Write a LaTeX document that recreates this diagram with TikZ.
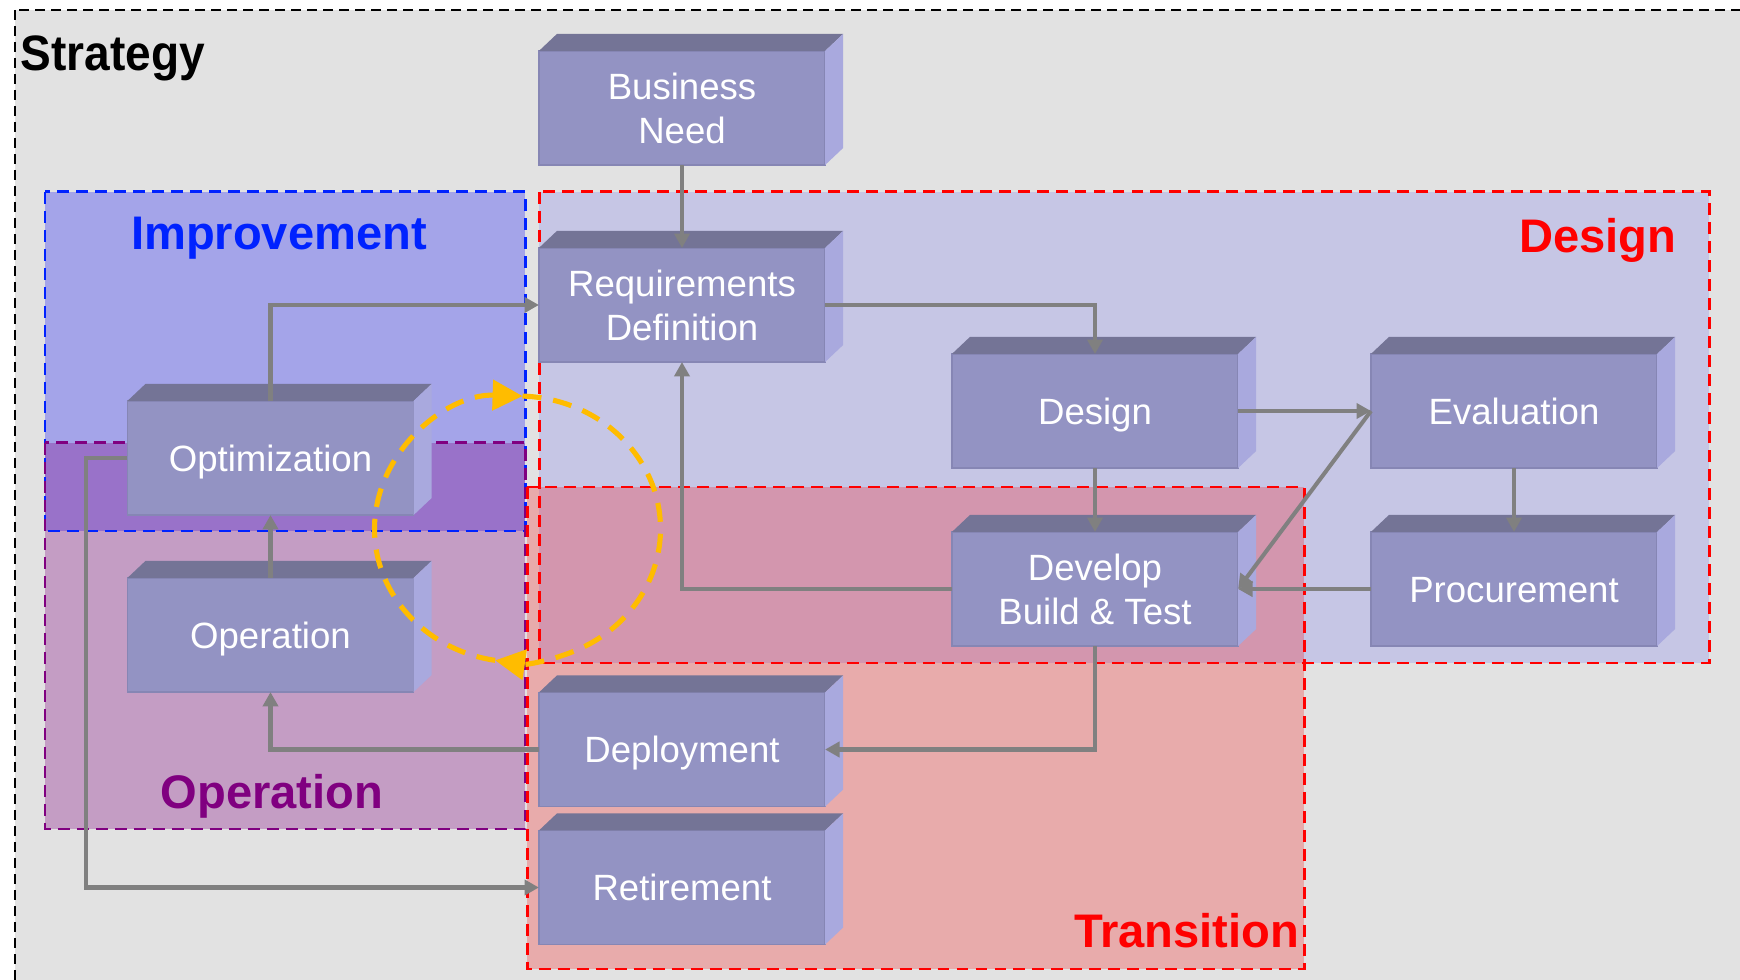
\documentclass[tikz,border=0pt]{standalone}
\usepackage{fontspec}
\setmainfont{Liberation Sans}
\usetikzlibrary{arrows.meta}

\definecolor{canvasgray}{RGB}{226,226,226}
\definecolor{facefront}{RGB}{147,147,195}
\definecolor{facetop}{RGB}{116,116,150}
\definecolor{faceside}{RGB}{169,169,222}
\definecolor{faceedge}{RGB}{134,134,180}
\definecolor{linkgray}{RGB}{128,128,128}
\definecolor{loopgold}{RGB}{255,188,0}
\definecolor{impblue}{RGB}{0,34,255}
\definecolor{opspurple}{RGB}{128,0,128}

\tikzset{
  stagebox/.style={fill=facefront, draw=faceedge, line width=0.4pt, inner sep=0pt, outer sep=0pt,
    minimum width=2.86cm, minimum height=1.14cm, text=white, align=center,
    font=\fontsize{10.4}{12.5}\selectfont},
  oneline/.style={text height=7.45pt, text depth=0pt},
  flow/.style={draw=linkgray, line width=1.15pt, -{Triangle[width=4.3pt,length=4.1pt]}},
  zoneline/.style={line width=0.85pt, dash pattern=on 3.4pt off 2pt},
  zonelabel/.style={font=\fontsize{13.4}{16}\selectfont\bfseries, inner sep=0pt},
  cyclepath/.style={draw=loopgold, line width=1.45pt, dash pattern=on 5.4pt off 3.4pt,
    -{Triangle[width=8.5pt,length=8.5pt]}},
}

\begin{document}
\begin{tikzpicture}[x=0.01cm, y=-0.01cm]
\useasboundingbox (0,0) rectangle (1740,980);
\clip (0,0) rectangle (1740,980);
\fill[white] (0,0) rectangle (1740,980);

% strategy area
\fill[canvasgray] (15,10) rectangle (1760,1000);

% zone fills
\fill[blue, fill opacity=0.12] (539,192) rectangle (1709,663);
\fill[blue, fill opacity=0.27] (45,192) rectangle (525,531);
\fill[opspurple, fill opacity=0.3] (45,443) rectangle (525,829);
\fill[red, fill opacity=0.24] (527,487) rectangle (1304,969);

% zone borders
\draw[zoneline, draw=red] (539,192) rectangle (1709,663);
\draw[zoneline, draw=impblue] (45,192) rectangle (525,531);
\draw[zoneline, draw=opspurple] (45,443) rectangle (525,829);
\draw[zoneline, draw=red] (527,487) rectangle (1304,969);
\draw[line width=0.57pt, dash pattern=on 2.85pt off 1.7pt] (15,10) rectangle (1760,1000);

% zone labels
\node[zonelabel, font=\fontsize{13.1}{16}\selectfont\bfseries, anchor=base west] (lstrat) at (20,71) {\scalebox{1}[1.08]{Strategy}};
\node[zonelabel, text=impblue, anchor=base] (limp) at (279,250) {Improvement};
\node[zonelabel, text=red, anchor=base east] (ldes) at (1677,253) {Design};
\node[zonelabel, text=opspurple, anchor=base] (lops) at (272,808) {Operation};
\node[zonelabel, text=red, anchor=base east] (ltra) at (1300,947) {Transition};

% stage boxes (front faces)
\node[stagebox] (bn)  at (682,108)   {Business\\Need};
\node[stagebox] (rd)  at (682,305)   {Requirements\\Definition};
\node[stagebox, oneline] (des) at (1095,411) {Design};
\node[stagebox] (dev) at (1095,589)  {Develop\\Build \& Test};
\node[stagebox, oneline] (eva) at (1514,411) {Evaluation};
\node[stagebox, oneline] (pro) at (1514,589) {Procurement};
\node[stagebox, oneline] (opt) at (270.5,458) {Optimization};
\node[stagebox, oneline] (ope) at (270.5,635) {Operation};
\node[stagebox, oneline] (dep) at (682,749.5) {Deployment};
\node[stagebox, oneline] (ret) at (682,887.5) {Retirement};

% top and side faces of the boxes
\foreach \n in {bn,rd,des,dev,eva,pro,opt,ope,dep,ret}{
  \fill[facetop] (\n.north west) -- ++(18,-17) -- ([shift={(18,-17)}]\n.north east) -- (\n.north east) -- cycle;
  \fill[faceside] (\n.north east) -- ++(18,-17) -- ([shift={(18,-17)}]\n.south east) -- (\n.south east) -- cycle;
}

% connectors
\draw[flow] (bn.south) -- (rd.north);
\draw[flow] (rd.east) -| (des.north);
\draw[flow] (des.south) -- (dev.north);
\draw[flow] (des.east) -- (eva.west);
\draw[flow] (eva.west) -- (dev.east);
\draw[flow] (pro.west) -- (dev.east);
\draw[flow] (eva.south) -- (pro.north);
\draw[flow] (dev.west) -| (rd.south);
\draw[flow] (dev.south) |- (dep.east);
\draw[flow] (dep.west) -| (ope.south);
\draw[flow] (ope.north) -- (opt.south);
\draw[flow] (opt.north) |- (rd.west);
\draw[flow] (opt.west) -- ++(-41,0) |- (ret.west);

% improvement cycle
\coordinate (hub) at (517.5,529);
\draw[cyclepath] ([shift={(-88:143 and 133)}]hub) arc[start angle=-88, end angle=99, x radius=143, y radius=133];
\draw[cyclepath] ([shift={(99:143 and 133)}]hub) arc[start angle=99, end angle=272, x radius=143, y radius=133];
\end{tikzpicture}
\end{document}
